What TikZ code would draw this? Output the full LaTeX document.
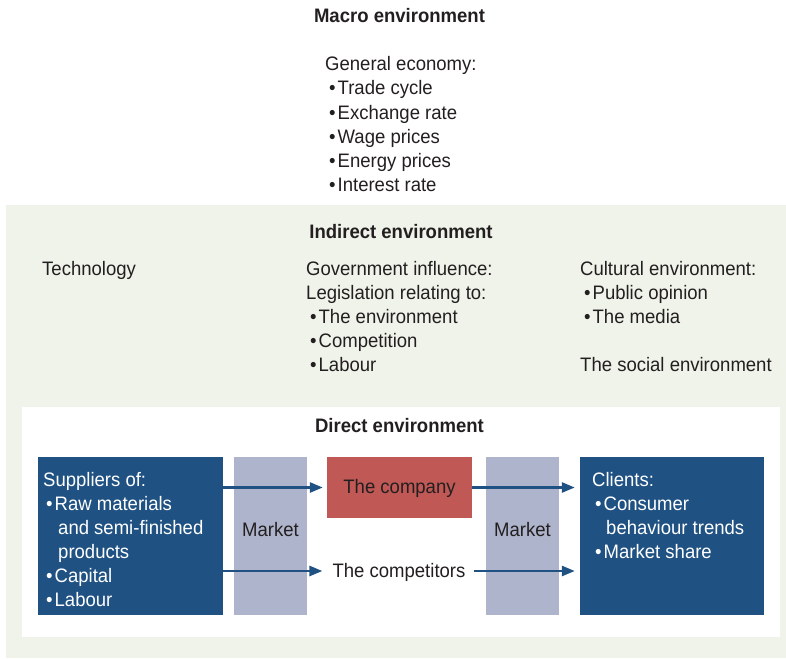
\documentclass[tikz,border=0pt]{standalone}
\usepackage{fontspec}
\setmainfont{Liberation Sans}[FakeStretch=0.95]
\usetikzlibrary{arrows.meta}
\definecolor{bggreen}{HTML}{F0F3EA}
\definecolor{dblue}{HTML}{1F5182}
\definecolor{mkt}{HTML}{AEB4CB}
\definecolor{cored}{HTML}{C05855}
\definecolor{ink}{HTML}{231F20}
\tikzset{
  txt/.style={inner sep=0pt, text=ink, font=\fontsize{19.5}{24}\selectfont},
  wtxt/.style={txt, text=white},
  head/.style={txt, font=\fontsize{19.5}{24}\selectfont\bfseries},
  bluebox/.style={fill=dblue, draw=none, inner sep=0pt, minimum height=158pt},
  mktbox/.style={fill=mkt, draw=none, inner sep=0pt, minimum width=73pt, minimum height=158pt},
  arr/.style={draw=dblue, line width=2.6pt, -{Triangle[length=13pt,width=10pt]}},
}
\newcommand\bul{\textbullet\kern2pt}
\begin{document}
\begin{tikzpicture}[x=1pt,y=-1pt]
\useasboundingbox (0,0) rectangle (786,658);
% backgrounds
\fill[bggreen] (6,205) rectangle (786,658);
\fill[white] (22,407) rectangle (780,637);

% macro environment
\node[head, anchor=base] (macro) at (399.5,23) {Macro environment};
\node[txt, anchor=base west] (ge) at (325,71) {General economy:};
\node[txt, anchor=base west] (ge1) at (329,95) {\bul Trade cycle};
\node[txt, anchor=base west] (ge2) at (329,119) {\bul Exchange rate};
\node[txt, anchor=base west] (ge3) at (329,143) {\bul Wage prices};
\node[txt, anchor=base west] (ge4) at (329,167) {\bul Energy prices};
\node[txt, anchor=base west] (ge5) at (329,191) {\bul Interest rate};

% indirect environment
\node[head, anchor=base] (indirect) at (401,238) {Indirect environment};
\node[txt, anchor=base west] (tech) at (42,275) {Technology};
\node[txt, anchor=base west] (gov) at (306,275) {Government influence:};
\node[txt, anchor=base west] (leg) at (306,299) {Legislation relating to:};
\node[txt, anchor=base west] (leg1) at (310,323) {\bul The environment};
\node[txt, anchor=base west] (leg2) at (310,347) {\bul Competition};
\node[txt, anchor=base west] (leg3) at (310,371) {\bul Labour};
\node[txt, anchor=base west] (cult) at (580,275) {Cultural environment:};
\node[txt, anchor=base west] (cult1) at (584,299) {\bul Public opinion};
\node[txt, anchor=base west] (cult2) at (584,323) {\bul The media};
\node[txt, anchor=base west] (soc) at (580,371) {The social environment};

% direct environment
\node[head, anchor=base] (direct) at (399.5,432) {Direct environment};
\node[bluebox, minimum width=185pt] (sup) at (130.5,536) {};
\node[mktbox] (m1) at (270.5,536) {};
\node[mktbox] (m2) at (522.5,536) {};
\node[bluebox, minimum width=184pt] (cli) at (672,536) {};
\node[fill=cored, inner sep=0pt, minimum width=145pt, minimum height=61pt,
      text=ink, font=\fontsize{19.5}{24}\selectfont, text height=13pt, text depth=2pt]
      (co) at (399.5,487.5) {The company};
\node[txt, inner xsep=8pt, text height=14pt, text depth=2pt] (comp) at (399,571) {The competitors};

\node[txt, anchor=base] (m1t) at (m1.center) {Market};
\node[txt, anchor=base] (m2t) at (m2.center) {Market};

\node[wtxt, anchor=base west] (s0) at (43,486) {Suppliers of:};
\node[wtxt, anchor=base west] (s1) at (46,510) {\bul Raw materials};
\node[wtxt, anchor=base west] (s2) at (58,534) {and semi-finished};
\node[wtxt, anchor=base west] (s3) at (58,558) {products};
\node[wtxt, anchor=base west] (s4) at (46,582) {\bul Capital};
\node[wtxt, anchor=base west] (s5) at (46,606) {\bul Labour};

\node[wtxt, anchor=base west] (c0) at (592,486) {Clients:};
\node[wtxt, anchor=base west] (c1) at (595,510) {\bul Consumer};
\node[wtxt, anchor=base west] (c2) at (606,534) {behaviour trends};
\node[wtxt, anchor=base west] (c3) at (595,558) {\bul Market share};

% arrows
\draw[arr, shorten >=4pt] (sup.east |- co.west) -- (co.west);
\draw[arr, shorten >=5pt] (co.east) -- (cli.west |- co.east);
\draw[arr, shorten >=2pt] (sup.east |- comp.west) -- (comp.west);
\draw[arr, shorten >=5pt] (comp.east) -- (cli.west |- comp.east);
\end{tikzpicture}
\end{document}
